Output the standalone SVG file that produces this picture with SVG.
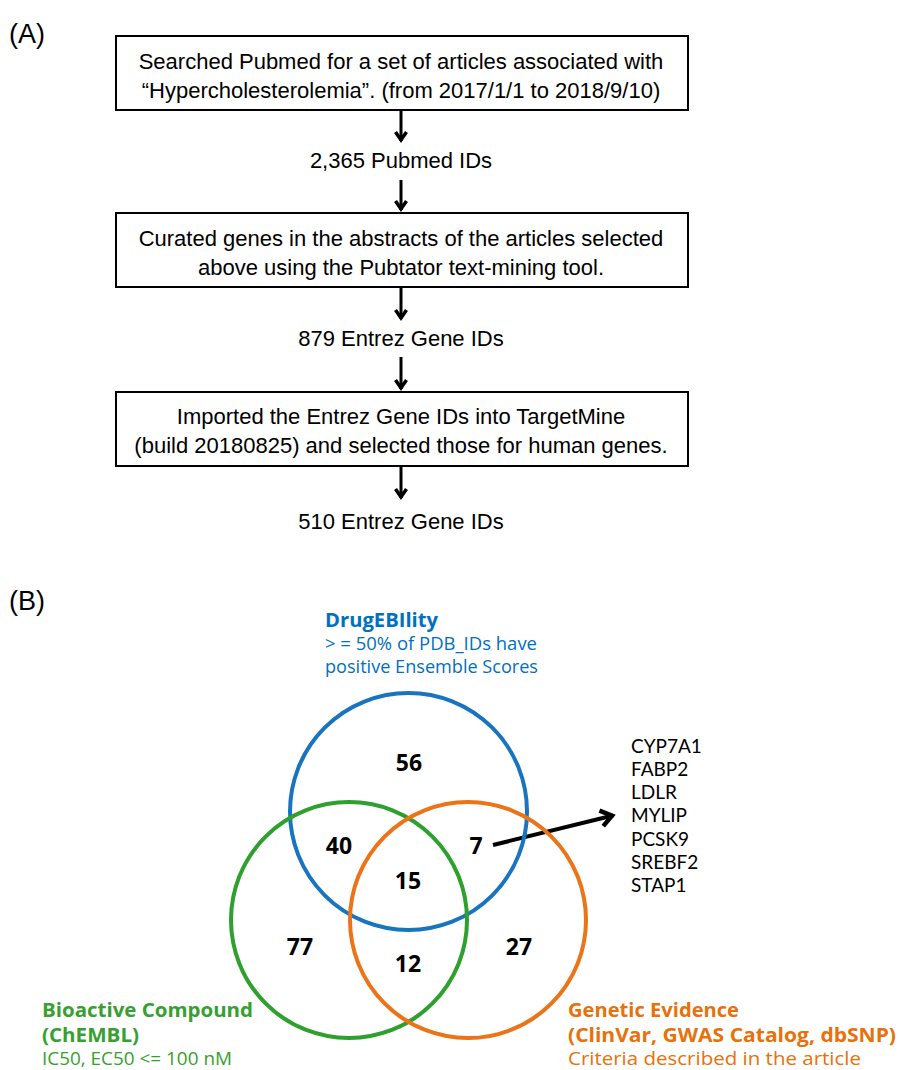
<svg xmlns="http://www.w3.org/2000/svg" width="898" height="1070" viewBox="0 0 898 1070">
<style>
.ft{font-family:"Liberation Sans",Arial,sans-serif;font-size:22px;fill:#000;text-anchor:middle}
.lab{font-family:"Liberation Sans",Arial,sans-serif;font-size:27px;fill:#000}
.box{fill:#fff;stroke:#000;stroke-width:2}
.fl{stroke:#000;stroke-width:3;fill:none}
.num{font-family:"Open Sans","Noto Sans",sans-serif;font-size:23px;font-weight:bold;fill:#000;text-anchor:middle}
.gene{font-family:Lato,"Open Sans",sans-serif;font-size:19px;fill:#000}
.vt{font-family:"Open Sans","Noto Sans",sans-serif;font-size:18px}
.b{font-weight:bold;font-size:20px}
.circ{fill:none;stroke-width:4}
</style>
<defs>
<marker id="ah" markerWidth="16" markerHeight="14" refX="11" refY="7" orient="auto" markerUnits="userSpaceOnUse">
<path d="M2,1.5 L10,7 L2,12.5" fill="none" stroke="#000" stroke-width="3.5"/>
</marker>
<marker id="ah2" markerWidth="18" markerHeight="20" refX="14" refY="10" orient="auto" markerUnits="userSpaceOnUse">
<path d="M2,2 L13,10 L2,18" fill="none" stroke="#000" stroke-width="4.5"/>
</marker>
</defs>
<rect width="898" height="1070" fill="#fff"/>
<text class="lab" x="9" y="43">(A)</text>
<text class="lab" x="9" y="610">(B)</text>

<g id="connectors">
<line class="fl" x1="401" y1="110" x2="401" y2="141" marker-end="url(#ah)"/>
<line class="fl" x1="401" y1="180" x2="401" y2="210" marker-end="url(#ah)"/>
<line class="fl" x1="401" y1="287" x2="401" y2="319" marker-end="url(#ah)"/>
<line class="fl" x1="401" y1="357" x2="401" y2="389" marker-end="url(#ah)"/>
<line class="fl" x1="401" y1="466" x2="401" y2="498" marker-end="url(#ah)"/>
<line x1="493" y1="845" x2="613" y2="815.5" stroke="#000" stroke-width="4" marker-end="url(#ah2)"/>
</g>

<g id="box1">
<rect class="box" x="116" y="36" width="572" height="74"/>
<text class="ft" x="401" y="69">Searched Pubmed for a set of articles associated with</text>
<text class="ft" x="401" y="98">“Hypercholesterolemia”. (from 2017/1/1 to 2018/9/10)</text>
</g>
<g id="n1"><text class="ft" x="401" y="168">2,365 Pubmed IDs</text></g>
<g id="box2">
<rect class="box" x="116" y="213" width="572" height="74"/>
<text class="ft" x="401" y="246">Curated genes in the abstracts of the articles selected</text>
<text class="ft" x="401" y="275">above using the Pubtator text-mining tool.</text>
</g>
<g id="n2"><text class="ft" x="401" y="346">879 Entrez Gene IDs</text></g>
<g id="box3">
<rect class="box" x="116" y="392" width="572" height="74"/>
<text class="ft" x="401" y="424">Imported the Entrez Gene IDs into TargetMine</text>
<text class="ft" x="401" y="453">(build 20180825) and selected those for human genes.</text>
</g>
<g id="n3"><text class="ft" x="401" y="529">510 Entrez Gene IDs</text></g>

<g id="venn">
<circle class="circ" cx="408.5" cy="811.5" r="118.5" stroke="#1874C1"/>
<circle class="circ" cx="349" cy="920" r="118" stroke="#2DA02D"/>
<circle class="circ" cx="468" cy="920" r="118" stroke="#EC7418"/>
<text class="num" x="409" y="771">56</text>
<text class="num" x="339" y="854">40</text>
<text class="num" x="476" y="854">7</text>
<text class="num" x="408" y="889">15</text>
<text class="num" x="300" y="955">77</text>
<text class="num" x="408" y="972">12</text>
<text class="num" x="519" y="955">27</text>
</g>

<g id="genes">
<text class="gene" x="631" y="753">CYP7A1</text>
<text class="gene" x="631" y="776">FABP2</text>
<text class="gene" x="631" y="799">LDLR</text>
<text class="gene" x="631" y="822">MYLIP</text>
<text class="gene" x="631" y="846">PCSK9</text>
<text class="gene" x="631" y="869">SREBF2</text>
<text class="gene" x="631" y="892">STAP1</text>
</g>

<g id="drugebility" fill="#0070C0">
<text class="vt b" x="325" y="627" textLength="113" lengthAdjust="spacingAndGlyphs">DrugEBIlity</text>
<text class="vt" x="325" y="650" textLength="212" lengthAdjust="spacingAndGlyphs">&gt; = 50% of PDB_IDs have</text>
<text class="vt" x="325" y="673" textLength="213" lengthAdjust="spacingAndGlyphs">positive Ensemble Scores</text>
</g>
<g id="bioactive" fill="#36A030">
<text class="vt b" x="42" y="1017" textLength="211" lengthAdjust="spacingAndGlyphs">Bioactive Compound</text>
<text class="vt b" x="42" y="1042" textLength="97" lengthAdjust="spacingAndGlyphs">(ChEMBL)</text>
<text class="vt" x="42" y="1065" textLength="190" lengthAdjust="spacingAndGlyphs">IC50, EC50 &lt;= 100 nM</text>
</g>
<g id="genetic" fill="#E8710A">
<text class="vt b" x="568" y="1017" textLength="171" lengthAdjust="spacingAndGlyphs">Genetic Evidence</text>
<text class="vt b" x="568" y="1042" textLength="328" lengthAdjust="spacingAndGlyphs">(ClinVar, GWAS Catalog, dbSNP)</text>
<text class="vt" x="568" y="1065" textLength="293" lengthAdjust="spacingAndGlyphs">Criteria described in the article</text>
</g>
</svg>
